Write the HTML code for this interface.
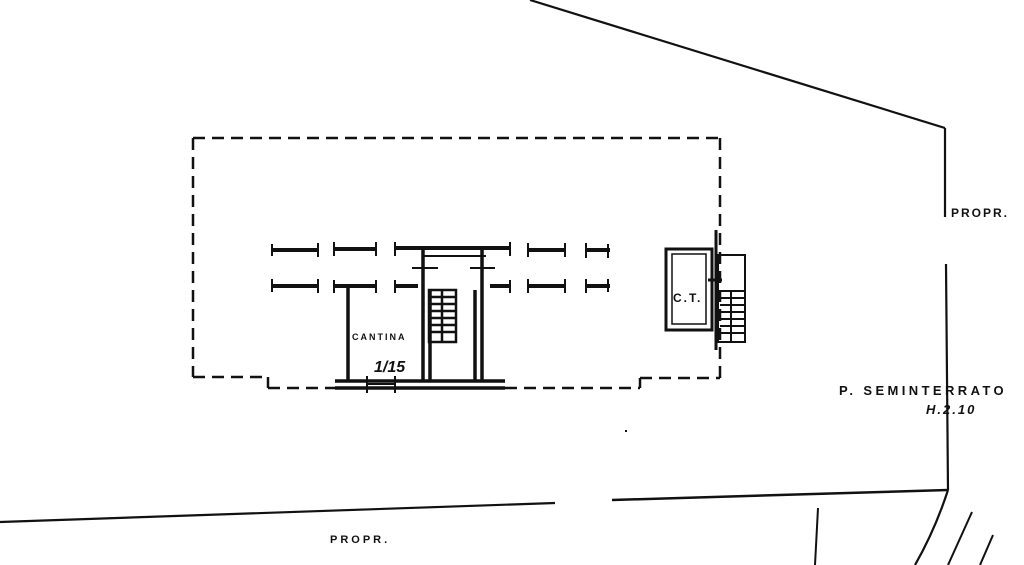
<!DOCTYPE html>
<html><head><meta charset="utf-8"><style>
html,body{margin:0;padding:0;background:#fff;}
svg{display:block;}
text{font-family:"Liberation Sans",sans-serif;font-weight:bold;fill:#111;}
</style></head><body>
<svg width="1024" height="565" viewBox="0 0 1024 565" xmlns="http://www.w3.org/2000/svg">
<g stroke="#111" fill="none" stroke-linecap="butt">
<line x1="530" y1="0" x2="945" y2="128" stroke-width="2.2"/>
<line x1="945" y1="128" x2="945" y2="217" stroke-width="2.2"/>
<line x1="946" y1="264" x2="948" y2="490" stroke-width="2.2"/>
<line x1="0" y1="522" x2="555" y2="503" stroke-width="2.2"/>
<line x1="612" y1="500" x2="948" y2="490" stroke-width="2.5"/>
<path d="M948 490 Q935 530 915 565" stroke-width="2.2"/>
<line x1="972" y1="512" x2="948" y2="565" stroke-width="2"/>
<line x1="993" y1="535" x2="980" y2="565" stroke-width="2"/>
<line x1="818" y1="508" x2="815" y2="565" stroke-width="2"/>
<g stroke-width="2.5" stroke-dasharray="12,7">
<line x1="193" y1="138" x2="720" y2="138"/>
<line x1="193" y1="138" x2="193" y2="377"/>
<line x1="720" y1="138" x2="720" y2="380"/>
<line x1="193" y1="377" x2="268" y2="377"/>
<line x1="268" y1="377" x2="268" y2="388"/>
<line x1="268" y1="388" x2="340" y2="388"/>
<line x1="505" y1="388" x2="640" y2="388"/>
<line x1="640" y1="388" x2="640" y2="378"/>
<line x1="640" y1="378" x2="720" y2="378"/>
</g>
<g stroke-width="4">
<line x1="272" y1="250" x2="318" y2="250"/><line x1="272" y1="286" x2="318" y2="286"/>
<line x1="334" y1="249" x2="376" y2="249"/><line x1="334" y1="286" x2="376" y2="286"/>
<line x1="395" y1="248" x2="510" y2="248"/><line x1="395" y1="286" x2="418" y2="286"/>
<line x1="490" y1="286" x2="510" y2="286"/>
<line x1="528" y1="250" x2="565" y2="250"/><line x1="528" y1="286" x2="565" y2="286"/>
<line x1="586" y1="250" x2="610" y2="250"/><line x1="586" y1="286" x2="610" y2="286"/>
</g>
<g stroke-width="2">
<line x1="318" y1="243" x2="318" y2="257"/><line x1="318" y1="279" x2="318" y2="293"/>
<line x1="272" y1="244" x2="272" y2="256"/><line x1="272" y1="279" x2="272" y2="292"/>
<line x1="334" y1="242" x2="334" y2="256"/><line x1="376" y1="242" x2="376" y2="256"/>
<line x1="334" y1="280" x2="334" y2="293"/><line x1="376" y1="280" x2="376" y2="293"/>
<line x1="395" y1="242" x2="395" y2="256"/><line x1="395" y1="280" x2="395" y2="293"/>
<line x1="510" y1="242" x2="510" y2="256"/><line x1="510" y1="280" x2="510" y2="293"/>
<line x1="528" y1="243" x2="528" y2="257"/><line x1="565" y1="243" x2="565" y2="257"/>
<line x1="528" y1="279" x2="528" y2="293"/><line x1="565" y1="279" x2="565" y2="293"/>
<line x1="586" y1="243" x2="586" y2="258"/><line x1="586" y1="279" x2="586" y2="293"/>
<line x1="608" y1="244" x2="608" y2="258"/><line x1="608" y1="279" x2="608" y2="292"/>
<line x1="422" y1="256" x2="486" y2="256"/>
<line x1="412" y1="268" x2="438" y2="268"/><line x1="470" y1="268" x2="495" y2="268"/>
</g>
<g stroke-width="3.5">
<line x1="348" y1="286" x2="348" y2="381"/>
<line x1="423" y1="250" x2="423" y2="382"/>
<line x1="430" y1="290" x2="430" y2="382"/>
<line x1="482" y1="250" x2="482" y2="382"/>
<line x1="475" y1="290" x2="475" y2="382"/>
<line x1="335" y1="381" x2="505" y2="381"/>
<line x1="335" y1="388" x2="505" y2="388"/>
</g>
<g stroke-width="2"><line x1="367" y1="376" x2="367" y2="393"/><line x1="395" y1="376" x2="395" y2="393"/><line x1="367" y1="384" x2="395" y2="384"/></g>
<g stroke-width="2.5">
<rect x="429" y="290" width="27" height="52"/>
<line x1="442" y1="290" x2="442" y2="342"/>
<line x1="429" y1="297" x2="456" y2="297"/><line x1="429" y1="304" x2="456" y2="304"/>
<line x1="429" y1="311" x2="456" y2="311"/><line x1="429" y1="318" x2="456" y2="318"/>
<line x1="429" y1="325" x2="456" y2="325"/><line x1="429" y1="332" x2="456" y2="332"/>
</g>
<g stroke-width="3">
<rect x="666" y="249" width="46" height="81"/>
<rect x="672" y="254" width="34" height="70" stroke-width="1.5"/>
<line x1="716" y1="230" x2="716" y2="350"/>
<rect x="718" y="255" width="27" height="87" stroke-width="2"/>
<line x1="708" y1="280" x2="722" y2="280"/>
</g>
<g stroke-width="2">
<line x1="720" y1="291" x2="745" y2="291"/><line x1="720" y1="298" x2="745" y2="298"/>
<line x1="720" y1="305" x2="745" y2="305"/><line x1="720" y1="312" x2="745" y2="312"/>
<line x1="720" y1="319" x2="745" y2="319"/><line x1="720" y1="326" x2="745" y2="326"/>
<line x1="720" y1="333" x2="745" y2="333"/><line x1="731" y1="291" x2="731" y2="342"/>
</g>
<line x1="625" y1="431" x2="627" y2="431" stroke-width="2"/>
</g>
<text x="352" y="340" font-size="9" letter-spacing="2">CANTINA</text>
<text x="374" y="372" font-size="16" font-style="italic" font-weight="normal">1/15</text>
<text x="673" y="302" font-size="12" letter-spacing="2">C.T.</text>
<text x="951" y="217" font-size="12" letter-spacing="2">PROPR.</text>
<text x="839" y="395" font-size="13" letter-spacing="3.4">P. SEMINTERRATO</text>
<text x="926" y="414" font-size="13" font-style="italic" letter-spacing="2">H.2.10</text>
<text x="330" y="543" font-size="11" letter-spacing="3">PROPR.</text>
</svg>
</body></html>
